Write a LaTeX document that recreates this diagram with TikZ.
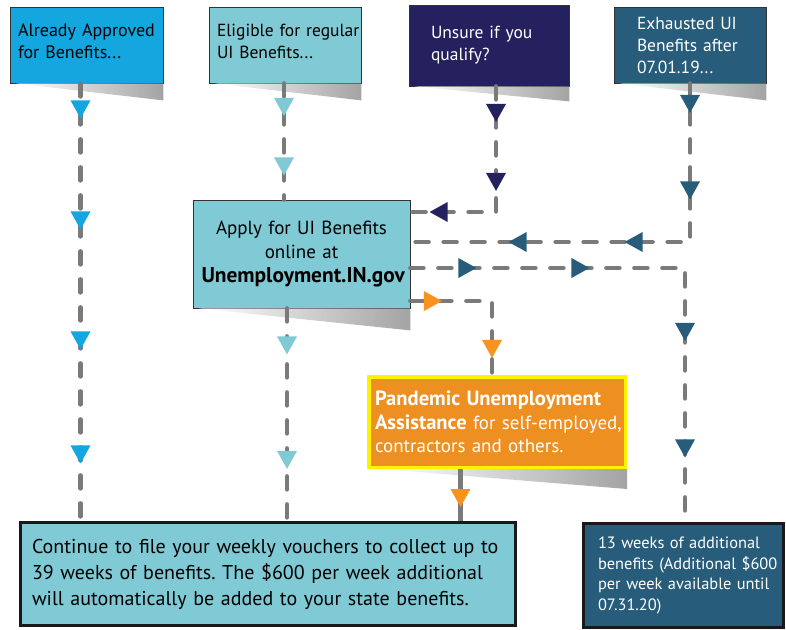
\documentclass[tikz,border=0pt]{standalone}
\usepackage{fontspec}
\setmainfont{PT Sans}
\usetikzlibrary{decorations.markings}
\definecolor{cA}{HTML}{14A6DF}
\definecolor{cB}{HTML}{80CAD6}
\definecolor{cC}{HTML}{25215F}
\definecolor{cD}{HTML}{275C7B}
\definecolor{cOr}{HTML}{EE8F21}
\definecolor{cOrTip}{HTML}{F7931E}
\definecolor{cYel}{HTML}{FFF200}
\definecolor{lineGray}{HTML}{7A7A7A}
\newcommand\mytip[1]{\fill[#1] (9pt,0) -- (-9pt,10pt) -- (-9pt,-10pt) -- cycle;}
\newcommand\bigbold[2]{{\fontsize{#1}{#1}\selectfont\bfseries #2}}
\tikzset{
  conn/.style={draw=lineGray, line width=4.5pt, dash pattern=on 13pt off 15pt, line cap=round},
  solidconn/.style={draw=lineGray, line width=4.5pt},
  topbox/.style={draw=black!80, line width=0.8pt, font=\fontsize{17.5}{22}\selectfont, align=left, inner ysep=0pt},
  shadowwedge/.style={left color=white, right color=black!45, opacity=0.8},
}
\frenchspacing
\begin{document}
\begin{tikzpicture}[x=1pt,y=-1pt]
\useasboundingbox (0,0) rectangle (786,629);
% top boxes
\node[topbox, fill=cA, text=black, minimum width=153pt, minimum height=76pt, inner xsep=8pt, text width=137pt, text depth=30pt, font=\fontsize{18}{22}\selectfont] (box1) at (86.5,45) {\mbox{Already Approved}\\\mbox{for Benefits...}};
\node[topbox, fill=cB, text=black, minimum width=152pt, minimum height=76pt, inner xsep=8pt, text width=136pt, text depth=30pt] (box2) at (285,45) {\mbox{Eligible for regular}\\\mbox{UI Benefits...}};
\node[topbox, fill=cC, text=white, minimum width=160pt, minimum height=81pt, inner xsep=22pt, text width=116pt] (box3) at (489,45.5) {\mbox{Unsure if you}\\\mbox{qualify?}};
\node[topbox, fill=cD, text=white, minimum width=152pt, minimum height=76pt, inner xsep=23pt, text width=106pt] (box4) at (690,45) {\mbox{Exhausted UI}\\\mbox{Benefits after}\\\mbox{07.01.19...}};
% apply box
\node[draw=black!80, line width=0.8pt, fill=cB, minimum width=217pt, minimum height=108pt, inner xsep=8.5pt, text width=200pt, align=center, font=\fontsize{19}{24}\selectfont] (apply) at (301.5,254) {Apply for UI Benefits\\online at\\\bigbold{21.4}{Unemployment.IN.gov}};
% PUA box
\node[draw=cYel, line width=3.5pt, fill=cOr, text=white, minimum width=256.5pt, minimum height=90.5pt, inner xsep=6.25pt, text width=244pt, align=left, font=\fontsize{19}{23.5}\selectfont] (pua) at (497,422) {\mbox{\bigbold{20.6}{Pandemic Unemployment}}\\\mbox{\bigbold{20.6}{Assistance} for self-employed,}\\\mbox{contractors and others.}};
% bottom boxes
\node[draw=black!90, line width=3pt, fill=cB, text=black, minimum width=495pt, minimum height=103pt, inner xsep=11.5pt, text width=472pt, align=left, font=\fontsize{20}{26}\selectfont] (bl) at (268,574) {\mbox{Continue to file your weekly vouchers to collect up to}\\\mbox{39 weeks of benefits. The \$600 per week additional}\\\mbox{will automatically be added to your state benefits.}};
\node[draw=black!90, line width=3pt, fill=cD, text=white, minimum width=200pt, minimum height=104pt, inner xsep=14.5pt, text width=171pt, align=left, font=\fontsize{16.4}{20.5}\selectfont] (br) at (683.5,575.5) {\mbox{13 weeks of additional}\\\mbox{benefits (Additional \$600}\\\mbox{per week available until}\\\mbox{07.31.20)}};
% shadows
\shade[shadowwedge] ([xshift=6pt]box1.south west) -- (box1.south east) -- ([yshift=-17pt]box1.south east) -- cycle;
\shade[shadowwedge] ([xshift=6pt]box2.south west) -- (box2.south east) -- ([yshift=-17pt]box2.south east) -- cycle;
\shade[shadowwedge] ([xshift=6pt]box3.south west) -- (box3.south east) -- ([yshift=-15pt]box3.south east) -- cycle;
\shade[shadowwedge] ([xshift=6pt]box4.south west) -- (box4.south east) -- ([yshift=-17pt]box4.south east) -- cycle;
\shade[shadowwedge] ([xshift=6pt]apply.south west) -- (apply.south east) -- ([yshift=-22pt]apply.south east) -- cycle;
\shade[shadowwedge] ([xshift=14pt]pua.south west) -- (pua.south east) -- ([yshift=-20pt]pua.south east) -- cycle;
% x and y levels
\coordinate (xA) at (80.5,0);
\coordinate (xB) at (284,0);
\coordinate (xBl) at (287,0);
\coordinate (xC) at (496,0);
\coordinate (xD) at (690,0);
\coordinate (xE) at (685,0);
\coordinate (xF) at (492,0);
\coordinate (xG) at (460.5,0);
\coordinate (yC) at (0,212);
\coordinate (yD) at (0,242);
\coordinate (yE) at (0,268);
\coordinate (yF) at (0,301);
% connectors
\draw[conn, postaction={decorate}, decoration={markings,
  mark=at position 26pt with {\mytip{cA}}, mark=at position 137pt with {\mytip{cA}},
  mark=at position 257pt with {\mytip{cA}}, mark=at position 371pt with {\mytip{cA}}}]
  (box1.south -| xA) -- (bl.north -| xA);
\draw[conn, postaction={decorate}, decoration={markings,
  mark=at position 23.5pt with {\mytip{cB}}, mark=at position 83pt with {\mytip{cB}}}]
  (box2.south -| xB) -- (apply.north -| xB);
\draw[conn, postaction={decorate}, decoration={markings,
  mark=at position 37pt with {\mytip{cB}}, mark=at position 151.5pt with {\mytip{cB}}}]
  (apply.south -| xBl) -- (bl.north -| xBl);
\draw[conn, postaction={decorate}, decoration={markings,
  mark=at position 26.5pt with {\mytip{cC}}, mark=at position 95.5pt with {\mytip{cC}},
  mark=at position 183pt with {\mytip{cC}}}]
  (box3.south -| xC) |- (apply.east |- yC);
\draw[conn, postaction={decorate}, decoration={markings,
  mark=at position 20.5pt with {\mytip{cD}}, mark=at position 107pt with {\mytip{cD}},
  mark=at position 215pt with {\mytip{cD}}, mark=at position 331pt with {\mytip{cD}}}]
  (box4.south -| xD) |- (apply.east |- yD);
\draw[conn, postaction={decorate}, decoration={markings,
  mark=at position 57pt with {\mytip{cD}}, mark=at position 170pt with {\mytip{cD}},
  mark=at position 338.5pt with {\mytip{cD}}, mark=at position 455pt with {\mytip{cD}}}]
  (apply.east |- yE) -| (br.north -| xE);
\draw[conn, postaction={decorate}, decoration={markings,
  mark=at position 22.5pt with {\mytip{cOrTip}}, mark=at position 129.5pt with {\mytip{cOrTip}}}]
  (apply.east |- yF) -| (pua.north -| xF);
\draw[solidconn, postaction={decorate}, decoration={markings,
  mark=at position 29pt with {\mytip{cOrTip}}}]
  (pua.south -| xG) -- (bl.north -| xG);
\end{tikzpicture}
\end{document}
